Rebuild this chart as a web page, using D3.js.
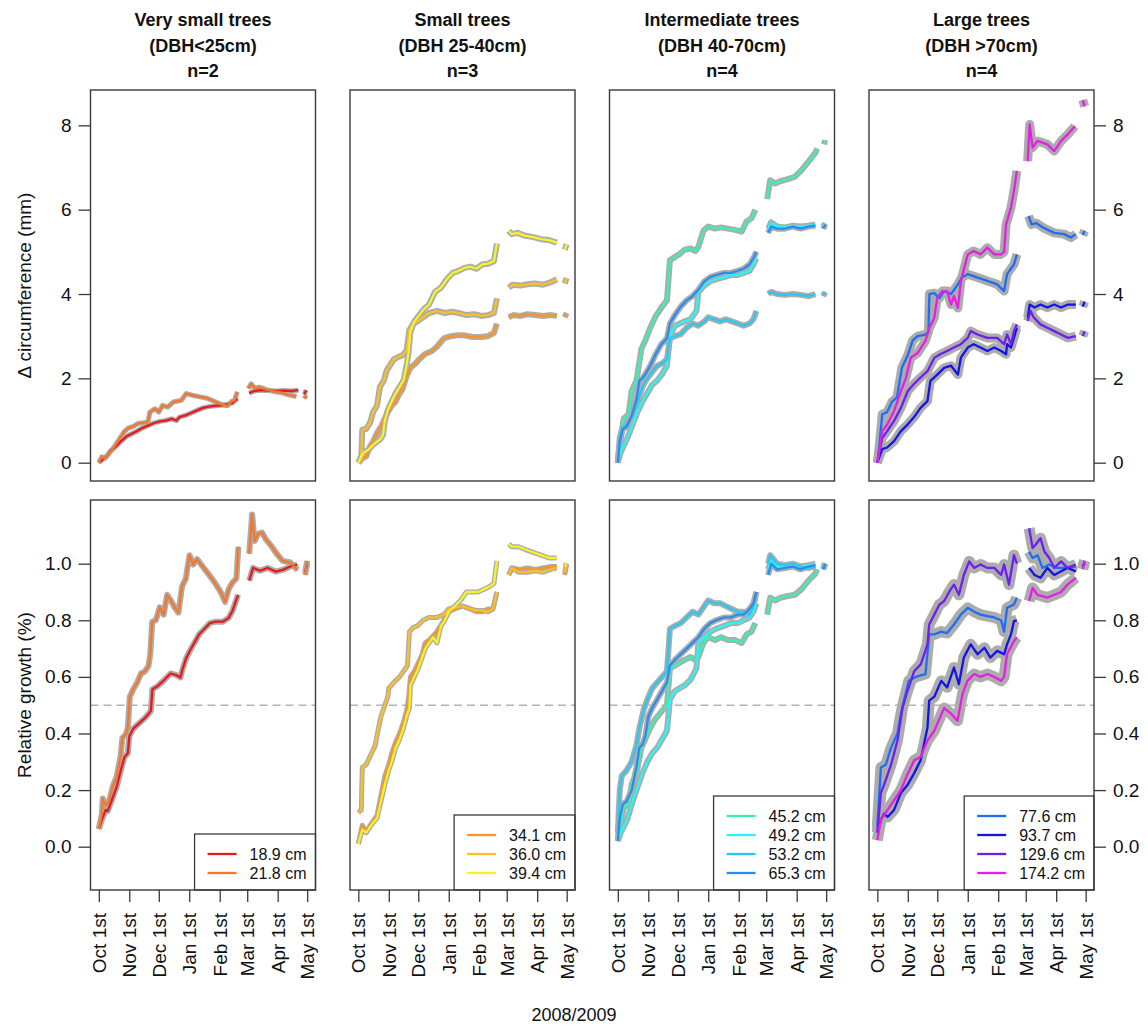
<!DOCTYPE html>
<html>
<head>
<meta charset="utf-8">
<script src="https://cdn.jsdelivr.net/npm/d3@7"></script>
<style>
  body { margin: 0; background: #fff; }
  svg { display: block; font-family: "Liberation Sans", Arial, sans-serif; }
</style>
</head>
<body>
<svg id="chart" width="1148" height="1033"></svg>
<script>
// panel headings and legend entries
var groupTitles = ["Very small trees", "Small trees", "Intermediate trees", "Large trees"];
var groupRanges = ["(DBH<25cm)", "(DBH 25-40cm)", "(DBH 40-70cm)", "(DBH >70cm)"];
var groupN = ["n=2", "n=3", "n=4", "n=4"];
var treeDbh = [
    ["18.9 cm", "21.8 cm"],
    ["34.1 cm", "36.0 cm", "39.4 cm"],
    ["45.2 cm", "49.2 cm", "53.2 cm", "65.3 cm"],
    ["77.6 cm", "93.7 cm", "129.6 cm", "174.2 cm"]
];
var treeColours = [
    ["#e8191e", "#f5782a"],
    ["#f79628", "#fbbf28", "#f8f228"],
    ["#3cf0b4", "#28f5f5", "#28c8f5", "#2a8cf0"],
    ["#1e6ef5", "#1414e6", "#6e1ef0", "#e61ee6"]
];

var monthTicks = ["2008-10-01", "2008-11-01", "2008-12-01", "2009-01-01", "2009-02-01", "2009-03-01", "2009-04-01", "2009-05-01"];
var monthLabels = ["Oct 1st", "Nov 1st", "Dec 1st", "Jan 1st", "Feb 1st", "Mar 1st", "Apr 1st", "May 1st"];
var circTicks = [0, 2, 4, 6, 8];
var relTicks = [0, 0.2, 0.4, 0.6, 0.8, 1.0];

// [days since Oct 1st 2008, value]; null = gap in the dendrometer record
// delta circumference (mm)
var circ189 = [[0,0],[4,0.08],[8,0.15],[12,0.28],[18,0.4],[23,0.52],[28,0.62],[33,0.68],[38,0.74],[44,0.82],[50,0.88],[55,0.93],[62,0.98],[68,1.0],[74,1.04],[79,1.0],[82,1.08],[88,1.12],[94,1.18],[100,1.24],[106,1.3],[112,1.33],[118,1.35],[124,1.36],[130,1.38],[136,1.42],[141,1.52],[142,null],[153,1.65],[158,1.7],[165,1.72],[172,1.71],[180,1.7],[188,1.71],[196,1.7],[203,1.72],[204,null],[209,1.62],[211,1.72]];
var circ218 = [[0,0],[3,0.14],[6,0.1],[10,0.22],[14,0.32],[18,0.46],[22,0.6],[26,0.74],[30,0.82],[35,0.86],[40,0.93],[46,0.95],[50,0.97],[52,1.2],[57,1.28],[61,1.2],[65,1.36],[70,1.32],[76,1.44],[84,1.48],[89,1.64],[95,1.6],[103,1.56],[110,1.53],[118,1.45],[125,1.38],[131,1.35],[135,1.45],[138,1.48],[141,1.68],[143,null],[152,1.76],[155,1.87],[159,1.76],[163,1.79],[171,1.73],[178,1.69],[186,1.66],[193,1.61],[201,1.57],[204,null],[209,1.52],[211,1.6]];
var circ341 = [[0,0],[4,0.1],[8,0.15],[11,0.35],[15,0.5],[19,0.7],[23,0.85],[27,1.05],[30,1.2],[34,1.35],[38,1.45],[41,1.6],[45,1.75],[49,2.05],[53,2.25],[58,2.35],[62,2.45],[68,2.58],[75,2.65],[80,2.75],[87,2.95],[94,3.0],[100,3.02],[108,3.02],[116,2.98],[124,2.98],[132,3.0],[138,3.08],[141,3.3],[142,null],[153,3.45],[158,3.5],[165,3.48],[172,3.52],[180,3.5],[188,3.48],[196,3.5],[202,3.48],[203,null],[210,3.45],[212,3.55]];
var circ360 = [[0,0],[3,0.1],[4,0.78],[8,0.8],[12,0.95],[15,1.2],[19,1.35],[22,1.8],[26,1.95],[29,2.2],[32,2.3],[36,2.45],[40,2.5],[45,2.55],[49,2.65],[52,3.15],[56,3.3],[60,3.35],[66,3.45],[72,3.55],[80,3.6],[88,3.55],[95,3.58],[102,3.55],[110,3.5],[118,3.52],[125,3.48],[132,3.5],[138,3.55],[141,3.9],[142,null],[153,4.15],[157,4.22],[165,4.2],[172,4.23],[180,4.25],[188,4.22],[196,4.28],[202,4.35],[203,null],[210,4.25],[212,4.38]];
var circ394 = [[0,0],[3,0.15],[6,0.25],[10,0.3],[14,0.4],[18,0.48],[22,0.55],[25,0.65],[27,1.0],[30,1.25],[34,1.45],[38,1.65],[42,1.8],[46,1.95],[49,2.3],[51,2.6],[53,3.1],[57,3.35],[62,3.5],[67,3.65],[72,3.75],[78,4.05],[84,4.15],[90,4.35],[96,4.5],[102,4.55],[108,4.62],[114,4.65],[120,4.6],[126,4.7],[132,4.72],[138,4.78],[141,5.2],[142,null],[153,5.5],[156,5.42],[162,5.45],[170,5.38],[178,5.35],[186,5.3],[194,5.28],[202,5.22],[203,null],[210,5.05],[212,5.18]];
var circ452 = [[0,0],[3,0.6],[6,1.05],[11,1.15],[14,1.7],[19,1.95],[24,2.7],[28,2.9],[33,3.2],[38,3.45],[45,3.7],[50,3.85],[53,4.8],[58,4.88],[63,4.95],[68,5.05],[74,5.08],[79,5.02],[82,5.12],[87,5.5],[92,5.6],[99,5.55],[105,5.58],[112,5.55],[119,5.52],[126,5.48],[131,5.72],[136,5.8],[140,6.0],[141,null],[152,6.25],[155,6.7],[160,6.62],[166,6.68],[172,6.72],[180,6.78],[187,6.94],[194,7.14],[201,7.35],[203,7.45],[204,null],[210,7.55],[211,7.65]];
var circ492 = [[0,0],[3,0.25],[6,0.4],[10,0.6],[15,0.9],[20,1.2],[25,1.45],[30,1.65],[35,1.85],[40,1.95],[45,2.1],[50,2.3],[53,3.0],[58,3.25],[63,3.3],[68,3.35],[74,3.4],[80,3.6],[82,4.05],[88,4.2],[94,4.3],[100,4.35],[108,4.4],[115,4.45],[122,4.45],[128,4.5],[134,4.55],[138,4.7],[141,4.85],[142,null],[153,5.55],[156,5.7],[162,5.6],[170,5.58],[178,5.62],[186,5.6],[194,5.62],[201,5.65],[202,null],[209,5.6],[211,5.68]];
var circ532 = [[0,0],[2,0.6],[5,0.85],[9,0.9],[14,1.1],[19,1.35],[22,1.6],[26,1.85],[30,2.0],[35,2.15],[40,2.3],[45,2.35],[50,2.45],[53,2.95],[58,3.0],[64,3.05],[70,3.2],[76,3.3],[82,3.25],[88,3.35],[92,3.45],[98,3.4],[104,3.35],[110,3.4],[116,3.35],[122,3.3],[128,3.25],[134,3.3],[138,3.4],[141,3.6],[142,null],[153,4.0],[156,4.05],[162,4.0],[170,3.98],[178,4.0],[186,3.98],[194,3.95],[201,4.0],[202,null],[209,3.95],[211,4.05]];
var circ653 = [[0,0],[2,0.5],[5,0.8],[9,0.85],[14,1.1],[19,1.5],[22,1.95],[25,2.0],[28,2.1],[33,2.3],[38,2.55],[44,2.8],[50,2.95],[53,3.3],[58,3.5],[64,3.7],[70,3.85],[76,3.95],[82,4.1],[88,4.3],[94,4.4],[100,4.45],[108,4.5],[115,4.5],[122,4.55],[128,4.6],[134,4.7],[138,4.85],[141,5.0],[142,null],[153,5.45],[156,5.6],[162,5.55],[170,5.55],[178,5.6],[186,5.55],[194,5.6],[201,5.62],[202,null],[209,5.55],[211,5.65]];
var circ776 = [[0,0],[2,0.4],[5,1.15],[10,1.2],[15,1.45],[20,1.55],[25,2.25],[31,2.55],[36,2.9],[41,3.0],[49,3.04],[52,3.1],[53,4.0],[58,4.02],[63,3.9],[68,4.07],[75,4.0],[82,4.23],[86,4.39],[92,4.47],[102,4.39],[112,4.31],[122,4.23],[129,4.07],[132,4.47],[139,4.7],[142,4.94],[143,null],[154,5.85],[157,5.65],[162,5.68],[169,5.57],[180,5.45],[190,5.42],[197,5.34],[202,5.42],[203,null],[209,5.4],[211,5.5]];
var circ937 = [[0,0],[5,0.32],[10,0.36],[17,0.51],[24,0.75],[31,0.91],[37,1.07],[44,1.3],[51,1.46],[54,1.94],[61,2.09],[68,2.25],[75,2.3],[82,2.09],[85,2.49],[92,2.73],[98,2.81],[105,2.73],[112,2.65],[119,2.73],[126,2.65],[131,2.57],[132,2.81],[136,2.73],[139,2.96],[142,3.2],[143,null],[153,3.44],[155,3.75],[160,3.68],[166,3.75],[173,3.68],[180,3.75],[187,3.68],[194,3.75],[202,3.75],[203,null],[209,3.7],[211,3.82]];
var circ1296 = [[0,0],[5,0.59],[10,0.75],[17,0.99],[24,1.3],[31,1.7],[37,1.86],[44,2.02],[51,2.17],[58,2.49],[64,2.57],[71,2.65],[78,2.73],[85,2.81],[92,2.96],[95,3.12],[102,3.04],[112,2.96],[122,2.96],[129,2.81],[132,3.04],[136,2.81],[139,3.12],[142,3.28],[143,null],[153,3.36],[156,3.6],[159,3.45],[166,3.28],[173,3.2],[180,3.12],[187,3.04],[194,2.96],[202,3.0],[203,null],[209,3.0],[211,3.12]];
var circ1742 = [[0,0],[5,0.75],[10,0.9],[17,1.22],[24,1.7],[29,2.0],[34,2.49],[41,2.6],[49,2.89],[53,3.2],[58,3.44],[61,3.91],[66,4.07],[71,4.07],[75,3.75],[78,3.95],[82,3.67],[85,4.3],[92,4.94],[98,5.02],[105,4.94],[112,5.1],[119,4.94],[126,4.94],[129,5.0],[131,5.65],[136,6.05],[139,6.44],[142,6.92],[143,null],[153,7.15],[155,8.02],[158,7.47],[163,7.63],[173,7.55],[180,7.39],[187,7.63],[194,7.79],[201,7.98],[202,null],[209,8.6],[211,8.45]];

// relative growth
var rel189 = [[0,0.063],[3,0.095],[7,0.13],[9,0.126],[12.5,0.158],[18,0.21],[22,0.265],[26,0.316],[29.5,0.33],[31,0.39],[35,0.417],[41,0.436],[47,0.455],[50,0.467],[53,0.48],[54.5,0.556],[60,0.568],[66,0.587],[73,0.612],[79,0.606],[83,0.598],[85,0.625],[88.5,0.663],[92,0.688],[96,0.713],[102,0.75],[107.5,0.77],[113,0.79],[119,0.795],[126,0.795],[132,0.808],[136,0.833],[141.7,0.89],[142,null],[153,0.94],[157,0.985],[164,0.975],[172,0.985],[180,0.972],[187,0.978],[195,0.99],[202,0.997],[203,null],[210,0.97],[212,1.0]];
var rel218 = [[0,0.063],[3,0.114],[4,0.17],[7,0.145],[10.6,0.164],[14.4,0.215],[18,0.246],[22,0.316],[24,0.385],[27.7,0.398],[29.6,0.423],[31.5,0.53],[35,0.556],[39,0.58],[43,0.612],[46.7,0.619],[50.5,0.638],[52.4,0.682],[54.3,0.795],[58,0.8],[62,0.846],[66,0.82],[69.5,0.89],[73.3,0.87],[77,0.846],[81,0.827],[84.7,0.92],[88.5,0.947],[92.3,1.03],[96,0.997],[100,1.016],[105.6,0.99],[111,0.966],[119,0.928],[124.6,0.896],[128.4,0.865],[132,0.909],[136,0.934],[140,0.947],[142,1.06],[143,null],[153,1.035],[156,1.174],[158.5,1.08],[162,1.105],[166,1.11],[170,1.086],[176,1.06],[181,1.035],[187,1.01],[195,1.004],[200,0.985],[202.5,0.978],[203,null],[210,0.96],[212,1.01]];
var rel341 = [[0,0.01],[4,0.076],[8,0.05],[11,0.07],[15,0.09],[19,0.11],[23,0.18],[27,0.25],[31,0.29],[34,0.33],[38,0.37],[42,0.4],[46,0.44],[49,0.48],[51,0.52],[53,0.6],[57,0.62],[61,0.65],[65,0.68],[68,0.72],[72,0.73],[80,0.76],[87,0.8],[92,0.83],[98,0.84],[106,0.85],[114,0.84],[120,0.83],[126,0.83],[132,0.84],[137,0.84],[141,0.9],[142,null],[153,0.96],[157,0.985],[164,0.98],[172,0.985],[180,0.98],[188,0.985],[196,0.99],[202,0.99],[203,null],[210,0.96],[212,1.0]];
var rel360 = [[0,0.12],[3,0.13],[4,0.28],[8,0.29],[12,0.32],[17,0.355],[20,0.41],[23,0.46],[27,0.5],[30,0.53],[31,0.56],[36,0.58],[42,0.6],[46,0.62],[50,0.64],[52,0.76],[56,0.775],[60,0.78],[66,0.8],[72,0.81],[80,0.81],[87,0.82],[92,0.84],[98,0.845],[106,0.85],[114,0.84],[120,0.835],[126,0.835],[132,0.83],[137,0.84],[141,0.9],[142,null],[153,0.96],[156,0.985],[163,0.97],[172,0.97],[180,0.975],[188,0.97],[196,0.98],[202,0.985],[203,null],[210,0.97],[212,1.0]];
var rel394 = [[0,0.01],[4,0.06],[8,0.05],[11,0.065],[15,0.085],[19,0.1],[23,0.16],[27,0.22],[31,0.27],[34,0.3],[38,0.35],[42,0.38],[46,0.42],[49,0.46],[52,0.49],[53,0.57],[57,0.6],[61,0.63],[65,0.67],[68,0.7],[72,0.72],[76,0.74],[80,0.72],[84,0.78],[88,0.8],[92,0.83],[98,0.85],[104,0.87],[110,0.9],[116,0.9],[122,0.9],[128,0.91],[134,0.92],[138,0.93],[141,1.01],[142,null],[153,1.07],[156,1.06],[163,1.06],[170,1.05],[178,1.04],[186,1.03],[194,1.02],[202,1.02],[203,null],[210,0.99],[212,1.0]];
var rel452 = [[0,0.03],[3,0.08],[6,0.14],[11,0.15],[14,0.22],[19,0.26],[24,0.35],[28,0.38],[33,0.42],[38,0.45],[45,0.48],[50,0.5],[53,0.63],[58,0.64],[63,0.65],[68,0.66],[74,0.67],[79,0.66],[82,0.67],[87,0.72],[92,0.74],[99,0.73],[105,0.74],[112,0.73],[119,0.73],[126,0.72],[131,0.75],[136,0.76],[140,0.79],[141,null],[152,0.82],[155,0.88],[160,0.87],[166,0.88],[172,0.885],[180,0.89],[187,0.91],[194,0.94],[201,0.965],[203,0.98],[204,null],[210,0.99],[211,1.0]];
var rel492 = [[0,0.02],[3,0.05],[6,0.07],[10,0.1],[15,0.16],[20,0.21],[25,0.26],[30,0.3],[35,0.33],[40,0.35],[45,0.38],[50,0.41],[53,0.52],[58,0.55],[63,0.56],[68,0.57],[74,0.59],[80,0.63],[82,0.72],[88,0.74],[94,0.76],[100,0.77],[108,0.78],[115,0.79],[122,0.79],[128,0.8],[134,0.81],[138,0.83],[141,0.86],[142,null],[153,0.98],[156,1.01],[162,0.99],[170,0.985],[178,0.995],[186,0.99],[194,0.995],[201,1.0],[202,null],[209,0.99],[211,1.0]];
var rel532 = [[0,0.05],[2,0.2],[4,0.25],[9,0.27],[14,0.3],[19,0.36],[22,0.42],[26,0.48],[30,0.52],[35,0.56],[40,0.58],[45,0.6],[50,0.62],[53,0.77],[58,0.78],[64,0.79],[70,0.81],[76,0.83],[82,0.82],[88,0.85],[92,0.87],[98,0.86],[104,0.86],[110,0.85],[116,0.84],[122,0.83],[128,0.83],[134,0.82],[138,0.85],[141,0.9],[142,null],[153,1.0],[155,1.03],[162,1.0],[170,0.995],[178,1.0],[186,0.99],[194,0.985],[201,0.99],[202,null],[209,0.98],[211,1.0]];
var rel653 = [[0,0.02],[2,0.1],[5,0.15],[9,0.16],[14,0.2],[19,0.28],[22,0.35],[25,0.36],[28,0.39],[31,0.46],[35,0.49],[40,0.52],[45,0.55],[50,0.58],[53,0.64],[58,0.66],[64,0.68],[70,0.7],[76,0.72],[82,0.74],[88,0.77],[94,0.79],[100,0.8],[108,0.81],[115,0.81],[122,0.82],[128,0.82],[134,0.84],[138,0.86],[141,0.9],[142,null],[153,0.96],[156,1.0],[162,0.98],[170,0.985],[178,0.99],[186,0.98],[194,0.99],[201,0.995],[202,null],[209,0.98],[211,1.0]];
var rel776 = [[0,0.07],[3.6,0.28],[8.7,0.29],[14,0.35],[20.5,0.4],[24,0.47],[27,0.516],[32,0.586],[39,0.6],[49,0.61],[52.8,0.75],[58,0.75],[65,0.76],[71,0.755],[78,0.785],[85,0.82],[92,0.844],[98.5,0.83],[105,0.82],[112,0.815],[119,0.81],[126,0.8],[129,0.76],[132,0.844],[139,0.856],[142,0.88],[143,null],[154.5,1.043],[158,1.02],[163,1.03],[168,0.985],[175,0.997],[183,0.985],[193.5,0.985],[202,0.99],[203,null],[209,0.99],[211,1.0]];
var rel937 = [[0,0.05],[3.6,0.094],[7,0.117],[10.4,0.105],[17,0.13],[24,0.19],[31,0.22],[37.5,0.26],[44,0.305],[51,0.42],[52.8,0.516],[58,0.53],[65,0.586],[71,0.563],[78,0.633],[83,0.574],[88,0.668],[95,0.715],[102,0.68],[109,0.703],[115,0.668],[122,0.692],[129,0.68],[132,0.715],[136,0.75],[139,0.797],[142,0.8],[143,null],[154.5,0.985],[160,0.96],[166,0.95],[173,0.985],[180,0.96],[187,0.973],[193.5,0.985],[202,0.973],[203,null],[209,0.99],[211,1.0]];
var rel1296 = [[0,0.05],[3.6,0.19],[7,0.22],[14,0.29],[20.5,0.375],[25.6,0.49],[30.7,0.55],[37.5,0.62],[44.3,0.645],[51,0.715],[52.8,0.785],[58,0.82],[63,0.855],[68,0.868],[73,0.9],[78,0.926],[83,0.89],[88,0.96],[93.5,1.008],[98.5,0.985],[105,0.997],[112,0.985],[119,0.985],[126,0.96],[129,0.997],[134,0.926],[139,1.03],[142,1.0],[143,null],[154.5,1.125],[158,1.055],[161,1.067],[166,1.09],[170,1.043],[175,1.02],[180,0.985],[187,1.008],[193.5,0.985],[202,0.997],[203,null],[209,0.99],[211,1.01]];
var rel1742 = [[0,0.023],[3.6,0.094],[10.4,0.13],[17,0.164],[24,0.2],[31,0.258],[37.5,0.305],[44,0.317],[51,0.375],[58,0.41],[68,0.49],[75,0.47],[81.6,0.445],[86.7,0.54],[91.7,0.586],[98.5,0.61],[105,0.6],[112,0.61],[119,0.6],[126,0.586],[129,0.6],[132,0.68],[139,0.727],[142,0.74],[143,null],[154.5,0.868],[158,0.914],[163,0.89],[173,0.88],[180,0.89],[187,0.9],[193.5,0.926],[202,0.95],[203,null],[209,0.98],[211,1.01]];

var circSeries = [[circ189, circ218], [circ341, circ360, circ394], [circ452, circ492, circ532, circ653], [circ776, circ937, circ1296, circ1742]];
var relSeries = [[rel189, rel218], [rel341, rel360, rel394], [rel452, rel492, rel532, rel653], [rel776, rel937, rel1296, rel1742]];

var svg = d3.select("#chart");
var panelW = 225;
var panelLeft = [90.5, 350, 609.5, 869];
var rowTop = [90, 500], rowH = [391, 390];
var ink = "#3a3a3a";

var start = Date.UTC(2008, 9, 1);
function asDate(day) { return new Date(start + day * 864e5); }

var x = d3.scaleUtc().domain([asDate(-8.48), asDate(220.48)]).range([0, panelW]);
var yCirc = d3.scaleLinear().domain([-0.434, 8.838]).range([rowH[0], 0]);
var yRel = d3.scaleLinear().domain([-0.153, 1.225]).range([rowH[1], 0]);

var rows = [
    { series: circSeries, y: yCirc, ticks: circTicks, fmt: d3.format("d"), halo: [5, 6, 6, 9], title: "\u0394 circumference (mm)" },
    { series: relSeries, y: yRel, ticks: relTicks, fmt: d3.format(".1f"), halo: [6, 5, 6, 11], title: "Relative growth (%)" }
];

// titles over each column
groupTitles.forEach(function(t, p) {
    var cx = panelLeft[p] + panelW / 2;
    var lines = [t, groupRanges[p], groupN[p]];
    lines.forEach(function(s, i) {
        svg.append("text")
            .attr("x", cx).attr("y", 26 + i * 25.7)
            .attr("text-anchor", "middle")
            .style("font-size", "18px").style("font-weight", "bold")
            .attr("fill", "#111")
            .text(s);
    });
});

rows.forEach(function(row, r) {
    var y = row.y, h = rowH[r];
    var line = d3.line()
        .defined(function(d) { return d[1] !== null; })
        .x(function(d) { return x(asDate(d[0])); })
        .y(function(d) { return y(d[1]); });

    row.series.forEach(function(trees, p) {
        var g = svg.append("g").attr("transform", "translate(" + panelLeft[p] + "," + rowTop[r] + ")");

        if (r === 1) {
            g.append("line")
                .attr("x1", 0).attr("x2", panelW)
                .attr("y1", y(0.5)).attr("y2", y(0.5))
                .attr("stroke", "#b4b4b4").attr("stroke-width", 1.5)
                .attr("stroke-dasharray", "8,5");
        }

        // grey envelope first, then the coloured lines on top
        trees.forEach(function(s) {
            g.append("path").datum(s).attr("d", line)
                .attr("fill", "none").attr("stroke", "#acacac")
                .attr("stroke-width", row.halo[p])
                .attr("stroke-linejoin", "round");
        });
        trees.forEach(function(s, i) {
            g.append("path").datum(s).attr("d", line)
                .attr("fill", "none").attr("stroke", treeColours[p][i])
                .attr("stroke-width", 2.3)
                .attr("stroke-linejoin", "round");
        });

        // legend in the bottom row
        if (r === 1) {
            var n = treeDbh[p].length;
            var lg = g.append("g");
            var box = lg.append("rect").attr("fill", "#fff").attr("stroke", ink).attr("stroke-width", 1.3);
            var maxW = 0;
            treeDbh[p].forEach(function(lab, i) {
                var ty = h - 17 - (n - 1 - i) * 19;
                lg.append("line").attr("class", "seg").attr("y1", ty).attr("y2", ty)
                    .attr("stroke", treeColours[p][i]).attr("stroke-width", 2.3);
                var t = lg.append("text").attr("y", ty).attr("dy", "0.35em")
                    .style("font-size", "16px").attr("fill", "#111").text(lab);
                maxW = Math.max(maxW, t.node().getComputedTextLength());
            });
            var bw = 55 + maxW + 9, bh = n * 19 + 18;
            var bx = panelW - bw;
            box.attr("x", bx).attr("y", h - bh).attr("width", bw).attr("height", bh);
            lg.selectAll("line.seg").attr("x1", bx + 13).attr("x2", bx + 42);
            lg.selectAll("text").attr("x", bx + 55);
        }

        g.append("rect").attr("width", panelW).attr("height", h)
            .attr("fill", "none").attr("stroke", ink).attr("stroke-width", 1.4);

        // y axis on the outer panels only
        if (p === 0 || p === 3) {
            var ax = (p === 0 ? d3.axisLeft(y) : d3.axisRight(y))
                .tickValues(row.ticks).tickFormat(row.fmt)
                .tickSize(12).tickSizeOuter(0).tickPadding(7);
            var ag = g.append("g").attr("transform", p === 0 ? null : "translate(" + panelW + ",0)").call(ax);
            ag.select(".domain").remove();
            ag.selectAll("line").attr("stroke", ink).attr("stroke-width", 1.3);
            ag.selectAll("text").style("font-size", "19px").attr("fill", "#111").attr("font-family", null);
        }

        if (r === 1) {
            var xa = d3.axisBottom(x)
                .tickValues(monthTicks.map(function(m) { return new Date(m + "T00:00:00Z"); }))
                .tickFormat(function(d, i) { return monthLabels[i]; })
                .tickSize(12).tickSizeOuter(0);
            var xg = g.append("g").attr("transform", "translate(0," + h + ")").call(xa);
            xg.select(".domain").remove();
            xg.selectAll("line").attr("stroke", ink).attr("stroke-width", 1.3);
            xg.selectAll("text")
                .attr("transform", "rotate(-90)")
                .attr("text-anchor", "end")
                .attr("x", -23).attr("y", 0).attr("dy", "0.35em")
                .style("font-size", "19px").attr("fill", "#111").attr("font-family", null);
        }
    });

    svg.append("text")
        .attr("transform", "translate(31," + (rowTop[r] + h / 2) + ") rotate(-90)")
        .attr("text-anchor", "middle")
        .style("font-size", "19px").attr("fill", "#111")
        .text(row.title);
});

svg.append("text")
    .attr("x", 574).attr("y", 1021)
    .attr("text-anchor", "middle")
    .style("font-size", "18px").attr("fill", "#111")
    .text("2008/2009");
</script>
</body>
</html>
